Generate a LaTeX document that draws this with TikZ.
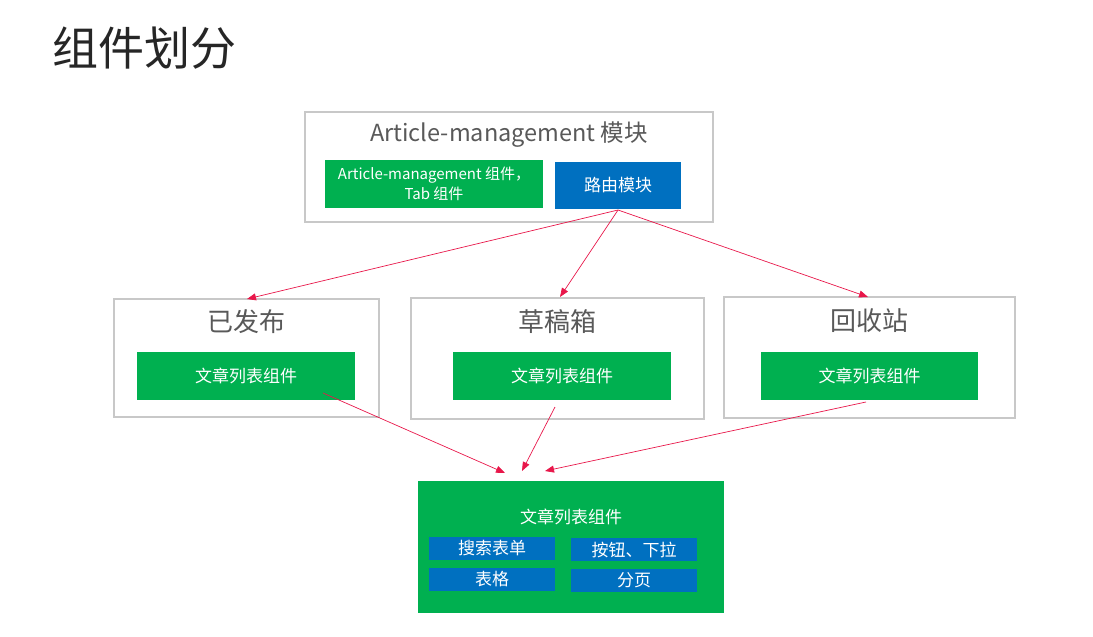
\documentclass[tikz,border=0pt]{standalone}
\usepackage{fontspec}
\setmainfont{Noto Sans CJK SC}
\usetikzlibrary{arrows.meta}
\definecolor{gbox}{HTML}{00B050}
\definecolor{bbox}{HTML}{0070C0}
\definecolor{frame}{HTML}{C8C8C8}
\definecolor{ttl}{HTML}{595959}
\definecolor{arr}{HTML}{E8174A}
\tikzset{
  outer/.style={draw=frame, line width=1.2pt, fill=white, inner sep=0pt},
  greenbox/.style={fill=gbox, text=white, inner sep=0pt, align=center, font=\fontsize{17}{19}\selectfont},
  bluebox/.style={fill=bbox, text=white, inner sep=0pt, align=center, font=\fontsize{17}{19}\selectfont},
  boxtitle/.style={text=ttl, inner sep=0pt, font=\fontsize{26}{30}\selectfont},
  link/.style={draw=arr, line width=0.7pt, -{Triangle[length=9pt,width=7pt]}},
}
\begin{document}
\begin{tikzpicture}[x=1pt,y=-1pt]
\useasboundingbox (0,0) rectangle (1093,637);
% title
\node[anchor=west, inner sep=0pt, text=black!85, font=\fontsize{46}{50}\selectfont] (title) at (52,48) {组件划分};
% top module
\node[outer, minimum width=408pt, minimum height=110pt] (top) at (509,167) {};
\node[boxtitle, font=\fontsize{23.5}{27}\selectfont] (toptitle) at (509,135) {Article-management 模块};
\node[greenbox, minimum width=218pt, minimum height=48pt, font=\fontsize{15}{20}\selectfont] (comp) at (434,184) {Article-management 组件，\\Tab 组件};
\node[bluebox, minimum width=126pt, minimum height=47pt] (router) at (618,185.5) {路由模块};
% middle boxes
\node[outer, minimum width=265pt, minimum height=118pt] (pub) at (246.5,358) {};
\node[boxtitle] (pubt) at (246.5,322) {已发布};
\node[greenbox, minimum width=218pt, minimum height=48pt] (publ) at (246,376) {文章列表组件};
\node[outer, minimum width=293pt, minimum height=121pt] (draft) at (557.5,358.5) {};
\node[boxtitle] (draftt) at (557.5,322) {草稿箱};
\node[greenbox, minimum width=218pt, minimum height=48pt] (draftl) at (562,376) {文章列表组件};
\node[outer, minimum width=291pt, minimum height=121pt] (bin) at (869.5,357.5) {};
\node[boxtitle] (bint) at (869.5,321) {回收站};
\node[greenbox, minimum width=217pt, minimum height=48pt] (binl) at (869.5,376) {文章列表组件};
% bottom component
\node[fill=gbox, minimum width=306pt, minimum height=132pt, inner sep=0pt] (list) at (571,547) {};
\node[text=white, inner sep=0pt, font=\fontsize{17}{19}\selectfont] (listt) at (571,517) {文章列表组件};
\node[bluebox, minimum width=126pt, minimum height=23pt] (search) at (492,548.5) {搜索表单};
\node[bluebox, minimum width=126pt, minimum height=23pt] (btn) at (634,549.5) {按钮、下拉};
\node[bluebox, minimum width=126pt, minimum height=23pt] (table) at (492,579.5) {表格};
\node[bluebox, minimum width=126pt, minimum height=23pt] (page) at (634,580.5) {分页};
% connectors
\coordinate (rs) at (618,210);
\coordinate (pubin) at (247,299);
\coordinate (draftin) at (560,297);
\coordinate (binin) at (868,297);
\draw[link] (rs) -- (pubin);
\draw[link] (rs) -- (draftin);
\draw[link] (rs) -- (binin);
\coordinate (p1) at (323,393);
\coordinate (p2) at (555,407);
\coordinate (p3) at (866,402);
\coordinate (q1) at (505,473);
\coordinate (q2) at (522,471);
\coordinate (q3) at (545,471);
\draw[link] (p1) -- (q1);
\draw[link] (p2) -- (q2);
\draw[link] (p3) -- (q3);
\end{tikzpicture}
\end{document}
